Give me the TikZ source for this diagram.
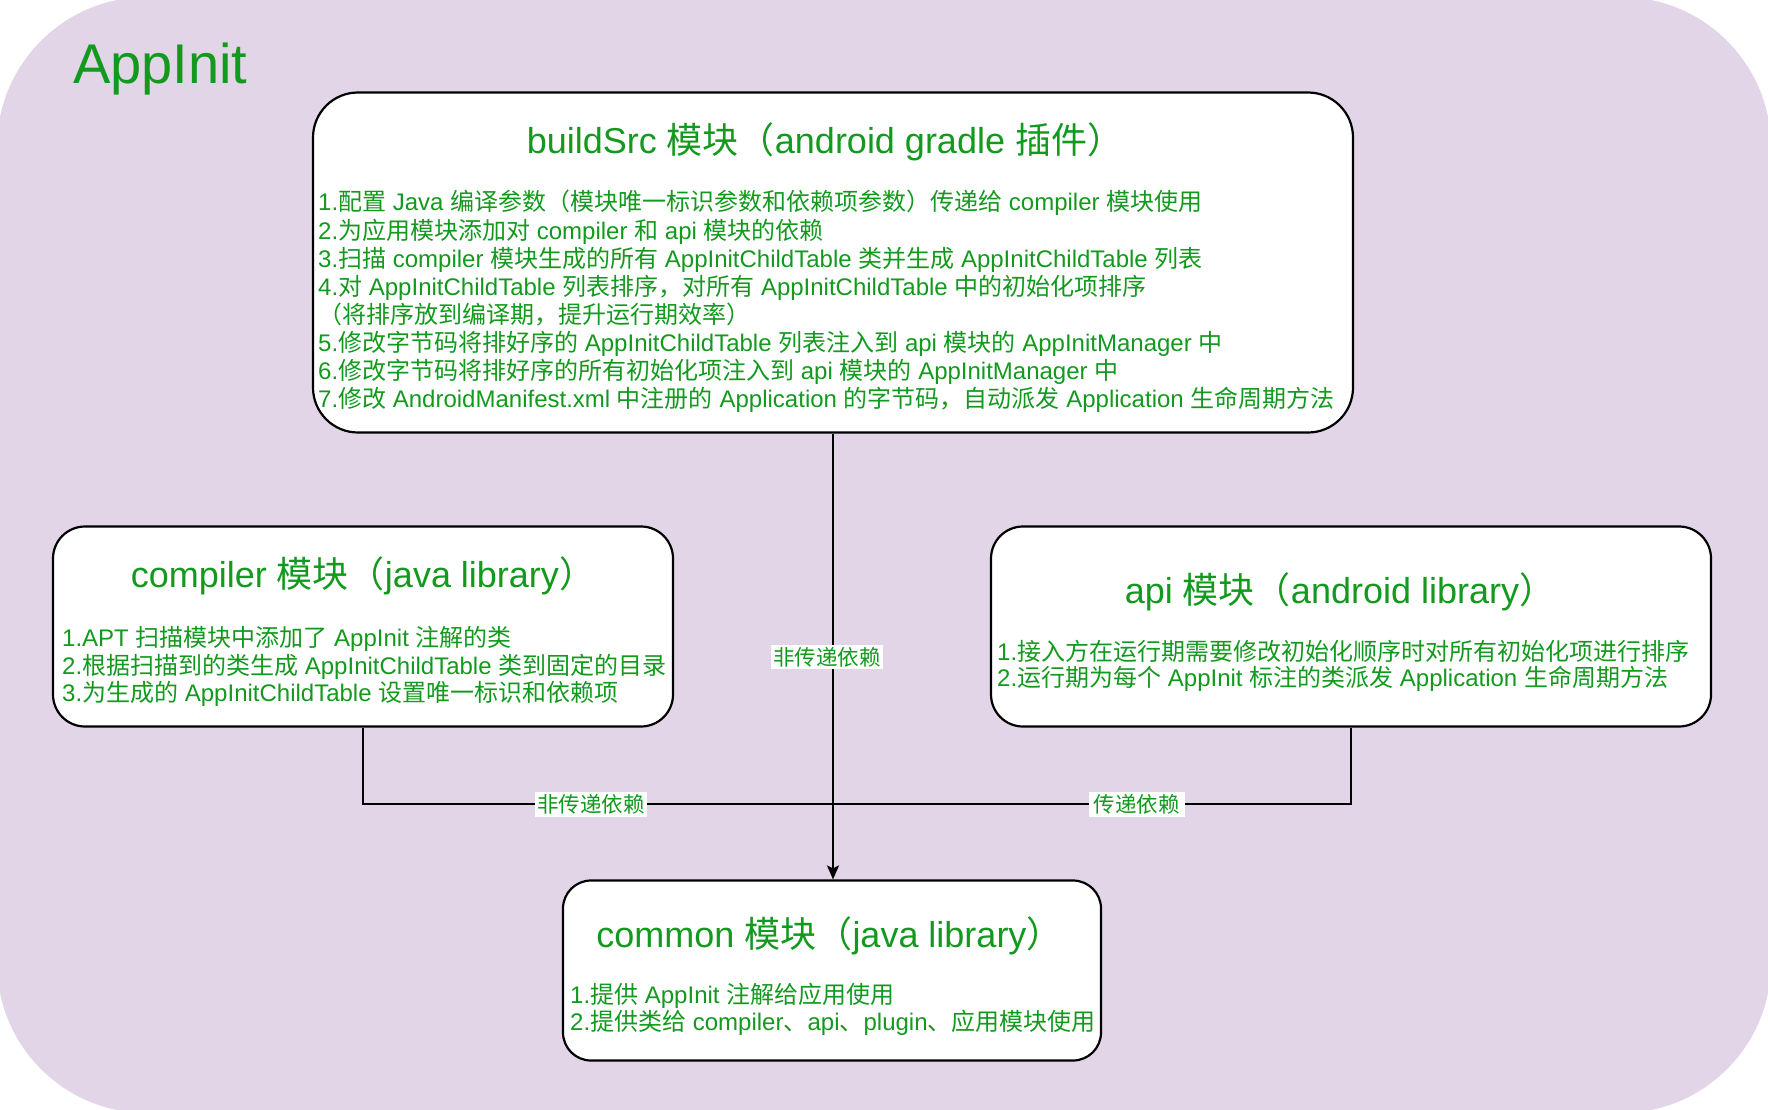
\documentclass[tikz,border=0pt]{standalone}
\usepackage{fontspec}
\setmainfont{Liberation Sans}
\newfontfamily\cjkfont{Noto Sans CJK SC}
\newfontfamily\latinfont{Liberation Sans}
\usetikzlibrary{arrows.meta}
\XeTeXinterchartokenstate=1
\chardef\cjkcls=10
\makeatletter
\count@="3000 \loop \XeTeXcharclass\count@=\cjkcls \ifnum\count@<"303F \advance\count@ by 1 \repeat
\count@="4E00 \loop \XeTeXcharclass\count@=\cjkcls \ifnum\count@<"9FFF \advance\count@ by 1 \repeat
\count@="FF00 \loop \XeTeXcharclass\count@=\cjkcls \ifnum\count@<"FFEF \advance\count@ by 1 \repeat
\makeatother
\XeTeXinterchartoks 0 \cjkcls = {\cjkfont}
\XeTeXinterchartoks 4095 \cjkcls = {\cjkfont}
\XeTeXinterchartoks \cjkcls 0 = {\latinfont}
\XeTeXinterchartoks \cjkcls 4095 = {\latinfont}
\definecolor{bgpurple}{HTML}{E1D5E7}
\definecolor{appgreen}{HTML}{139A1E}
\tikzset{
  modbox/.style={draw=black, line width=2.2pt, fill=white, rounded corners=32pt, inner sep=0pt},
  ttl/.style={text=appgreen, font=\fontsize{36}{42}\selectfont, anchor=base, inner sep=0pt},
  bodytxt/.style={text=appgreen, font=\fontsize{24}{28}\selectfont, anchor=base west, inner sep=0pt},
  lbl/.style={text=appgreen, fill=white, font=\fontsize{21.5}{24}\selectfont, inner xsep=2pt, inner ysep=2.5pt},
  apptitle/.style={text=appgreen, font=\fontsize{56}{60}\selectfont, anchor=base west, inner sep=0pt},
  conn/.style={draw=black, line width=2pt},
}
\begin{document}
\begin{tikzpicture}[x=1pt,y=-1pt]
\useasboundingbox (0,0) rectangle (1768,1110);
\fill[white] (0,0) rectangle (1768,1110);
\fill[bgpurple, rounded corners=150pt] (-3,-3) rectangle (1771,1113);
\node[apptitle] (app) at (73,84) {AppInit};
% boxes
\node[modbox, minimum width=1040pt, minimum height=340pt, rounded corners=45pt] (bs) at (833,262.5) {};
\node[modbox, minimum width=620pt, minimum height=200pt] (cp) at (363,626.5) {};
\node[modbox, minimum width=720pt, minimum height=200pt] (ap) at (1351,626.5) {};
\node[modbox, minimum width=538pt, minimum height=180pt, rounded corners=28pt] (cm) at (832,970.5) {};
% titles
\node[ttl] (bst) at (825,154) {buildSrc 模块（android gradle 插件）};
\node[ttl] (cpt) at (363,587.3) {compiler 模块（java library）};
\node[ttl] (apt) at (1340,603.3) {api 模块（android library）};
\node[ttl] (cmt) at (829.5,947) {common 模块（java library）};
% body texts
\foreach \t [count=\i from 0] in {
  1.配置 Java 编译参数（模块唯一标识参数和依赖项参数）传递给 compiler 模块使用,
  2.为应用模块添加对 compiler 和 api 模块的依赖,
  3.扫描 compiler 模块生成的所有 AppInitChildTable 类并生成 AppInitChildTable 列表,
  4.对 AppInitChildTable 列表排序，对所有 AppInitChildTable 中的初始化项排序,
  （将排序放到编译期，提升运行期效率）,
  5.修改字节码将排好序的 AppInitChildTable 列表注入到 api 模块的 AppInitManager 中,
  6.修改字节码将排好序的所有初始化项注入到 api 模块的 AppInitManager 中,
  7.修改 AndroidManifest.xml 中注册的 Application 的字节码，自动派发 Application 生命周期方法}
  \node[bodytxt] (bsl\i) at (318,211+28*\i) {\t};
\foreach \t [count=\i from 0] in {
  1.APT 扫描模块中添加了 AppInit 注解的类,
  2.根据扫描到的类生成 AppInitChildTable 类到固定的目录,
  3.为生成的 AppInitChildTable 设置唯一标识和依赖项}
  \node[bodytxt] (cpl\i) at (62,646.5+27.6*\i) {\t};
\foreach \t [count=\i from 0] in {
  1.接入方在运行期需要修改初始化顺序时对所有初始化项进行排序,
  2.运行期为每个 AppInit 标注的类派发 Application 生命周期方法}
  \node[bodytxt] (apl\i) at (997,660+26.5*\i) {\t};
\foreach \t [count=\i from 0] in {
  1.提供 AppInit 注解给应用使用,
  2.提供类给 compiler、api、plugin、应用模块使用}
  \node[bodytxt] (cml\i) at (570,1003+27.7*\i) {\t};
% connectors
\coordinate (jn) at (833,804);
\draw[conn, -{Stealth[length=14pt, width=12pt, inset=3pt]}] (bs.south) -- (cm.north -| bs.south);
\draw[conn] (cp.south) |- (jn);
\draw[conn] (ap.south) |- (jn);
% labels
\node[lbl] (l1) at (827,657) {非传递依赖};
\node[lbl] (l2) at (591,804.5) {非传递依赖};
\node[lbl, inner xsep=5pt] (l3) at (1136.5,804.5) {传递依赖};
\end{tikzpicture}
\end{document}
